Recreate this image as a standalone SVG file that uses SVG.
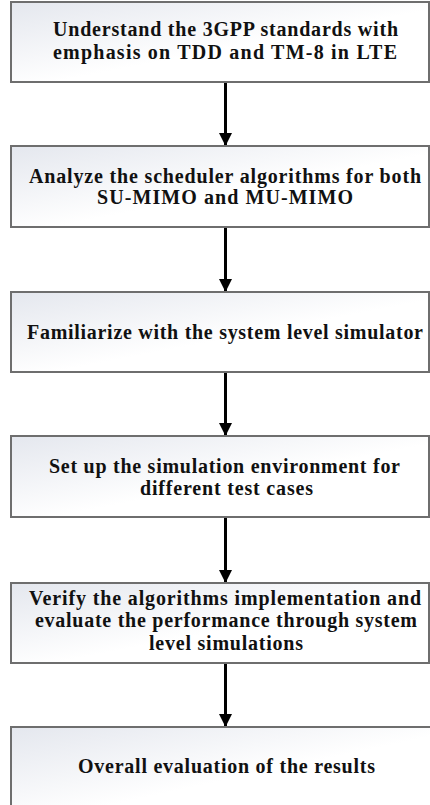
<svg xmlns="http://www.w3.org/2000/svg" width="430" height="805" viewBox="0 0 430 805">
  <defs>
    <linearGradient id="boxFill" x1="0" y1="0" x2="1" y2="1">
      <stop offset="0" stop-color="#e4e7ee"/>
      <stop offset="0.55" stop-color="#ffffff"/>
      <stop offset="1" stop-color="#ffffff"/>
    </linearGradient>
    <marker id="arrowHead" markerUnits="userSpaceOnUse" markerWidth="14" markerHeight="13" refX="14" refY="7" orient="auto" viewBox="0 0 14 14">
      <path d="M0,0 L14,7 L0,14 Z" fill="#000"/>
    </marker>
  </defs>
  <style>
    .box { fill: url(#boxFill); stroke: #6e6e6e; stroke-width: 2; }
    .label { font-family: "Liberation Serif", "Times New Roman", serif; font-weight: bold; font-size: 20px; fill: #111; text-anchor: middle; }
    .link { stroke: #000; stroke-width: 3; fill: none; marker-end: url(#arrowHead); }
  </style>
  <rect width="430" height="805" fill="#ffffff"/>

  <g id="connectors">
    <line class="link" x1="225.5" y1="82" x2="225.5" y2="146"/>
    <line class="link" x1="225.5" y1="227" x2="225.5" y2="292"/>
    <line class="link" x1="225.5" y1="372" x2="225.5" y2="436"/>
    <line class="link" x1="225.5" y1="517" x2="225.5" y2="583"/>
    <line class="link" x1="225.5" y1="663" x2="225.5" y2="727"/>
  </g>

  <g id="step1">
    <rect class="box" x="11" y="2" width="418" height="80"/>
    <text class="label" x="225.5" y="36" textLength="345" lengthAdjust="spacing">Understand the 3GPP standards with</text>
    <text class="label" x="225" y="59" textLength="344" lengthAdjust="spacing">emphasis on TDD  and TM-8 in LTE</text>
  </g>

  <g id="step2">
    <rect class="box" x="11" y="146" width="418" height="81"/>
    <text class="label" x="225" y="183" textLength="392" lengthAdjust="spacing">Analyze the scheduler algorithms for both</text>
    <text class="label" x="225" y="204" textLength="256" lengthAdjust="spacing">SU-MIMO and MU-MIMO</text>
  </g>

  <g id="step3">
    <rect class="box" x="11" y="292" width="418" height="80"/>
    <text class="label" x="225" y="339" textLength="396" lengthAdjust="spacing">Familiarize with the system level simulator</text>
  </g>

  <g id="step4">
    <rect class="box" x="11" y="436" width="418" height="81"/>
    <text class="label" x="224.5" y="473" textLength="351" lengthAdjust="spacing">Set up the simulation environment for</text>
    <text class="label" x="226.5" y="495" textLength="173" lengthAdjust="spacing">different test cases</text>
  </g>

  <g id="step5">
    <rect class="box" x="11" y="583" width="418" height="80"/>
    <text class="label" x="225" y="605" textLength="392" lengthAdjust="spacing">Verify the algorithms implementation and</text>
    <text class="label" x="226" y="627" textLength="382" lengthAdjust="spacing">evaluate the performance through system</text>
    <text class="label" x="226" y="650" textLength="154" lengthAdjust="spacing">level simulations</text>
  </g>

  <g id="step6">
    <rect class="box" x="11" y="727" width="422" height="90"/>
    <text class="label" x="226.5" y="773" textLength="297" lengthAdjust="spacing">Overall evaluation of the results</text>
  </g>
</svg>
